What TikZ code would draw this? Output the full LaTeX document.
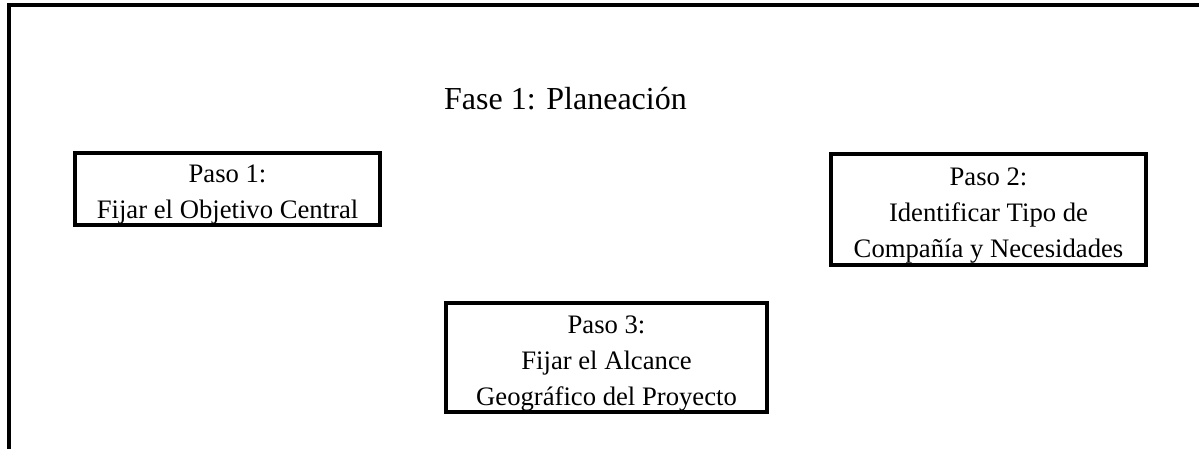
\documentclass[tikz,border=0pt]{standalone}
\usepackage{fontspec}
\setmainfont{Liberation Serif}
% strut that lowers the text a little inside the boxes
\newcommand{\pasotop}{\rule{0pt}{13pt}}
\begin{document}
\begin{tikzpicture}[x=0.45pt,y=0.45pt,
    pasobox/.style={draw,line width=1.6pt,inner sep=0pt,align=center,
        font=\fontsize{12}{16.2}\selectfont}]
    % Fix the page size and clip the outer frame
    \useasboundingbox (0,0) rectangle (1199,448);
    \clip (0,0) rectangle (1199,448);
    % Draw outer frame (runs off the page to the right and below)
    \draw [line width=1.6pt] (9,-20) rectangle (1230,443);
    % Phase title
    \node (fase) [anchor=base,font=\fontsize{14.4}{17}\selectfont]
        at (565.5,339) {Fase 1: Planeación};
    % Draw the steps
    \node (paso1) [pasobox,minimum width=137.25pt,minimum height=32.4pt]
        at (227.5,259) {\pasotop Paso 1:\\Fijar el Objetivo Central};
    \node (paso2) [pasobox,minimum width=141.75pt,minimum height=49.95pt]
        at (988.5,238.5) {\pasotop Paso 2:\\Identificar Tipo de\\Compañía y Necesidades};
    \node (paso3) [pasobox,minimum width=144.45pt,minimum height=49.05pt]
        at (606.5,90.5) {\pasotop Paso 3:\\Fijar el Alcance\\Geográfico del Proyecto};
\end{tikzpicture}
\end{document}
